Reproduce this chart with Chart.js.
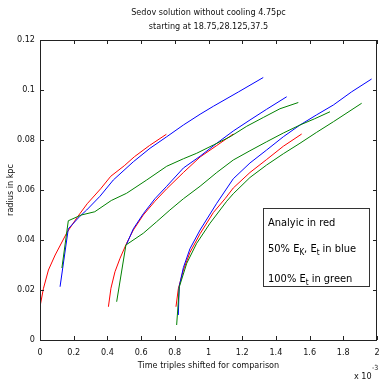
<!DOCTYPE html>
<html><head><meta charset="utf-8">
<script src="https://cdn.jsdelivr.net/npm/chart.js@4/dist/chart.umd.min.js"></script>
<style>html,body{margin:0;padding:0;background:#fff;}#wrap{width:379px;height:381px;}</style>
</head><body><div id="wrap"><canvas id="c" width="379" height="381"></canvas></div>
<script>
const titleLines = ['Sedov solution without cooling 4.75pc', 'starting at 18.75,28.125,37.5'];
const xTickLabels = ['0','0.2','0.4','0.6','0.8','1','1.2','1.4','1.6','1.8','2'];
const yTickLabels = ['0','0.02','0.04','0.06','0.08','0.1','0.12'];

const red1X = [0, 0.02, 0.05, 0.09, 0.16, 0.22, 0.28, 0.36, 0.42, 0.5, 0.56, 0.65, 0.75];
const red1Y = [0.0133, 0.0205, 0.028, 0.034, 0.043, 0.049, 0.0545, 0.0605, 0.0655, 0.0697, 0.0733, 0.0778, 0.0823];
const blue1X = [0.119, 0.168, 0.237, 0.277, 0.356, 0.435, 0.554, 0.653, 0.752, 0.851, 0.95, 1.029, 1.177, 1.325];
const blue1Y = [0.0213, 0.0445, 0.0495, 0.052, 0.0575, 0.064, 0.0713, 0.0767, 0.0813, 0.086, 0.0903, 0.0935, 0.0992, 0.105];
const green1X = [0.13, 0.168, 0.245, 0.325, 0.423, 0.514, 0.633, 0.752, 0.851, 0.93, 1.029, 1.128, 1.227, 1.325, 1.424, 1.533];
const green1Y = [0.0288, 0.0477, 0.05, 0.0513, 0.0558, 0.0587, 0.064, 0.0695, 0.0725, 0.0747, 0.078, 0.0813, 0.0855, 0.089, 0.0925, 0.095];

const red2X = [0.406, 0.421, 0.445, 0.475, 0.514, 0.554, 0.613, 0.682, 0.752, 0.851, 0.95, 1.049, 1.147];
const red2Y = [0.0133, 0.0207, 0.0273, 0.0327, 0.0387, 0.044, 0.05, 0.0555, 0.0605, 0.067, 0.0732, 0.0778, 0.0824];
const blue2X = [0.512, 0.554, 0.613, 0.682, 0.752, 0.851, 0.95, 1.049, 1.147, 1.246, 1.345, 1.464];
const blue2Y = [0.038, 0.0445, 0.0505, 0.0565, 0.0615, 0.0688, 0.0735, 0.0787, 0.0836, 0.088, 0.0923, 0.0973];
const green2X = [0.455, 0.51, 0.613, 0.692, 0.771, 0.851, 0.95, 1.049, 1.147, 1.246, 1.345, 1.444, 1.543, 1.63, 1.721];
const green2Y = [0.0153, 0.038, 0.0427, 0.0473, 0.052, 0.0565, 0.0615, 0.067, 0.072, 0.0757, 0.0793, 0.0828, 0.086, 0.0885, 0.0913];

const red3X = [0.807, 0.821, 0.851, 0.89, 0.95, 1.029, 1.098, 1.147, 1.246, 1.345, 1.444, 1.553];
const red3Y = [0.0133, 0.0205, 0.028, 0.035, 0.0425, 0.051, 0.0565, 0.0608, 0.067, 0.0722, 0.0775, 0.0824];
const blue3X = [0.821, 0.826, 0.851, 0.89, 0.95, 1.049, 1.147, 1.246, 1.345, 1.444, 1.543, 1.64, 1.741, 1.85, 1.968];
const blue3Y = [0.01, 0.0213, 0.029, 0.0365, 0.044, 0.0547, 0.0645, 0.0708, 0.076, 0.0813, 0.086, 0.09, 0.094, 0.0993, 0.1044];
const green3X = [0.811, 0.827, 0.871, 0.93, 1.009, 1.108, 1.147, 1.246, 1.345, 1.444, 1.543, 1.64, 1.741, 1.909];
const green3Y = [0.006, 0.0213, 0.0307, 0.0387, 0.0467, 0.0555, 0.0585, 0.065, 0.07, 0.0745, 0.0787, 0.083, 0.0873, 0.0947];

const seriesColors = {red: '#ff0000', blue: '#0000ff', green: '#008000'};
const FONT = "'Liberation Sans Narrow','DejaVu Sans Condensed','Liberation Sans',Arial,sans-serif";

function pts(xs, ys) { return xs.map((x, i) => ({x: x, y: ys[i]})); }
function ds(xs, ys, col) {
  return {data: pts(xs, ys), borderColor: col, borderWidth: 1, pointRadius: 0, fill: false, tension: 0};
}

const datasets = [
  ds(green1X, green1Y, seriesColors.green), ds(blue1X, blue1Y, seriesColors.blue), ds(red1X, red1Y, seriesColors.red),
  ds(green2X, green2Y, seriesColors.green), ds(blue2X, blue2Y, seriesColors.blue), ds(red2X, red2Y, seriesColors.red),
  ds(green3X, green3Y, seriesColors.green), ds(blue3X, blue3Y, seriesColors.blue), ds(red3X, red3Y, seriesColors.red)
];

const decor = {
  id: 'decor',
  afterDraw(chart) {
    const ctx = chart.ctx, a = chart.chartArea;
    const xs = chart.scales.x, ys = chart.scales.y;
    ctx.save();
    ctx.strokeStyle = '#222';
    ctx.lineWidth = 1;
    ctx.strokeRect(Math.round(a.left) + 0.5, Math.round(a.top) + 0.5, Math.round(a.right - a.left) - 1, Math.round(a.bottom - a.top));
    ctx.beginPath();
    const tl = 4;
    xs.ticks.forEach(t => {
      const px = Math.round(xs.getPixelForValue(t.value)) + 0.5;
      ctx.moveTo(px, a.bottom); ctx.lineTo(px, a.bottom - tl);
      ctx.moveTo(px, a.top); ctx.lineTo(px, a.top + tl);
    });
    ys.ticks.forEach(t => {
      const py = Math.round(ys.getPixelForValue(t.value)) + 0.5;
      ctx.moveTo(a.left, py); ctx.lineTo(a.left + tl, py);
      ctx.moveTo(a.right, py); ctx.lineTo(a.right - tl, py);
    });
    ctx.stroke();

    ctx.fillStyle = '#111';
    ctx.font = '9px ' + FONT;
    ctx.textAlign = 'center';
    ctx.textBaseline = 'middle';
    const cx = (a.left + a.right) / 2;
    ctx.fillText(titleLines[0], cx, a.top - 27);
    ctx.fillText(titleLines[1], cx, a.top - 13);

    ctx.textAlign = 'left';
    ctx.font = '9px ' + FONT;
    ctx.fillText('x 10', a.right - 23, a.bottom + 37);
    ctx.font = '7px ' + FONT;
    ctx.fillText('-3', a.right - 5, a.bottom + 28);

    const bx = xs.getPixelForValue(1.325), by = ys.getPixelForValue(0.0527);
    const bw = 106, bh = 78;
    ctx.fillStyle = '#fff';
    ctx.fillRect(Math.round(bx), Math.round(by), bw, bh);
    ctx.strokeStyle = '#333';
    ctx.strokeRect(Math.round(bx) + 0.5, Math.round(by) + 0.5, bw, bh);
    ctx.fillStyle = '#000';
    ctx.textBaseline = 'alphabetic';
    const big = '11px ' + FONT, small = '8px ' + FONT;
    let x0 = Math.round(bx) + 5;
    ctx.font = big;
    ctx.fillText('Analyic in red', x0, by + 18);
    let x = x0, yb = by + 44;
    const seg = (txt, sub) => {
      ctx.font = sub ? small : big;
      ctx.fillText(txt, x, sub ? yb + 3 : yb);
      x += ctx.measureText(txt).width;
    };
    seg('50% E', false); seg('K', true); seg(', E', false); seg('t', true); seg(' in blue', false);
    x = x0; yb = by + 74;
    seg('100% E', false); seg('t', true); seg(' in green', false);
    ctx.restore();
  }
};

function fixPad(s) { s.paddingLeft = 0; s.paddingRight = 0; s.paddingTop = 0; s.paddingBottom = 0; }

new Chart(document.getElementById('c'), {
  type: 'line',
  data: {datasets: datasets},
  options: {
    responsive: false,
    animation: false,
    events: [],
    layout: {padding: {top: 40, right: 2, left: 0, bottom: 0}},
    plugins: {legend: {display: false}, tooltip: {enabled: false}, title: {display: false}},
    scales: {
      x: {
        type: 'linear', min: 0, max: 2,
        grid: {display: false, drawTicks: false},
        border: {display: false},
        ticks: {stepSize: 0.2, autoSkip: false, maxRotation: 0, padding: 7, color: '#111',
          font: {size: 9, family: FONT},
          callback: (v, i) => xTickLabels[i]},
        title: {display: true, text: 'Time triples shifted for comparison', color: '#111',
          font: {size: 9, family: FONT}, padding: {top: 0, bottom: 10}},
        afterFit: s => { s.height = 41; fixPad(s); }
      },
      y: {
        type: 'linear', min: 0, max: 0.12,
        grid: {display: false, drawTicks: false},
        border: {display: false},
        ticks: {stepSize: 0.02, autoSkip: false, padding: 5, color: '#111',
          font: {size: 9, family: FONT},
          callback: (v, i) => yTickLabels[i]},
        title: {display: true, text: 'radius in kpc', color: '#111',
          font: {size: 9, family: FONT}, padding: {top: 5, bottom: 0}},
        afterFit: s => { s.width = 40; fixPad(s); }
      }
    }
  },
  plugins: [decor]
});
</script></body></html>
